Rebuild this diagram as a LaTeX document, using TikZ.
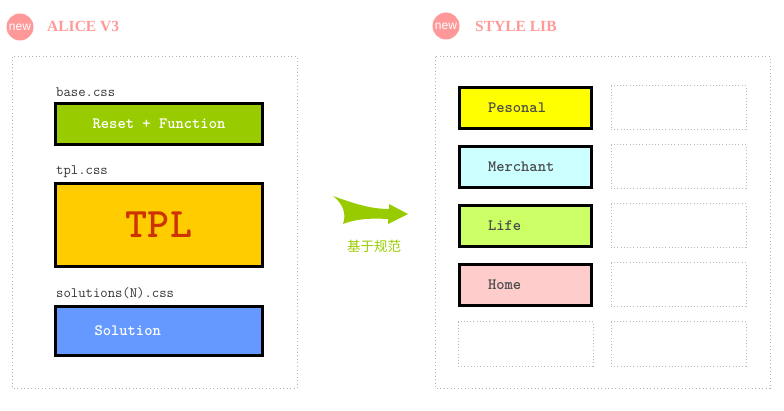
\documentclass[tikz,border=0pt]{standalone}
\usepackage{fontspec}
\setmainfont{Liberation Serif}
\setsansfont{Liberation Sans}
\newfontfamily\cjk{Noto Sans CJK SC}

\definecolor{newpink}{HTML}{FF9999}
\definecolor{basegreen}{HTML}{99CC00}
\definecolor{tplyellow}{HTML}{FFCC00}
\definecolor{tplred}{HTML}{CC3300}
\definecolor{solblue}{HTML}{6699FF}
\definecolor{peryellow}{HTML}{FFFF00}
\definecolor{mercyan}{HTML}{CCFFFF}
\definecolor{lifegreen}{HTML}{CCFF66}
\definecolor{homepink}{HTML}{FFCCCC}

\begin{document}
\begin{tikzpicture}[x=1pt,y=-1pt,
    newdot/.style={circle, fill=newpink, minimum size=27pt, inner sep=0pt,
      text=white, font=\sffamily\fontsize{12}{13}\selectfont},
    title/.style={anchor=west, text=newpink, inner sep=0pt,
      font=\bfseries\fontsize{15.5}{17}\selectfont},
    frame/.style={draw=gray!60, line width=1pt, dash pattern=on 1pt off 2.5pt},
    emptybox/.style={draw=gray!55, line width=1pt, dash pattern=on 1pt off 2.2pt,
      minimum width=135pt, minimum height=44pt, inner sep=0pt},
    filename/.style={anchor=west, inner sep=0pt, text=black!80,
      font=\ttfamily\fontsize{14.3}{16}\selectfont},
    lbox/.style={draw=black, line width=2.5pt, minimum width=207pt, inner sep=0pt,
      font=\ttfamily\bfseries\fontsize{15.8}{18}\selectfont},
    rbox/.style={draw=black, line width=2.5pt, minimum height=41pt,
      text width=75pt, inner xsep=28.5pt, inner ysep=0pt, align=left,
      text=black!70, font=\ttfamily\bfseries\fontsize{15.8}{18}\selectfont}]
    \useasboundingbox (0,0) rectangle (784,411);

    % headers
    \node[newdot] (newa) at (20,27) {new};
    \node[title] (alice) at (47,26) {ALICE V3};
    \node[newdot] (newb) at (446,26) {new};
    \node[title] (stylelib) at (475,26) {STYLE LIB};

    % containers
    \draw[frame] (12,57) rectangle (297,388);
    \draw[frame] (435,57) rectangle (770,388);

    % left column
    \node[filename] (basename) at (56,92) {base.css};
    \node[lbox, fill=basegreen, minimum height=41pt, text=white] (base) at (159,124) {Reset + Function};
    \node[filename] (tplname) at (56,172) {tpl.css};
    \node[lbox, fill=tplyellow, minimum height=83pt, text=tplred,
      font=\ttfamily\bfseries\fontsize{42}{44}\selectfont] (tpl) at (159,225) {TPL};
    \node[filename] (solname) at (56,293) {solutions(N).css};
    \node[lbox, fill=solblue, minimum height=49pt, text=white, text width=129pt,
      inner xsep=39pt, align=left] (sol) at (159,331) {Solution};

    % arrow
    \fill[basegreen] (333,196) .. controls (360,206) and (375,209) .. (389,209)
      -- (389,204) -- (408,214) -- (388,224) -- (388,219)
      .. controls (370,218) and (355,219) .. (343,224)
      .. controls (347,213) and (342,203) .. (333,196) -- cycle;
    \node[text=basegreen, font=\cjk\fontsize{13.5}{15}\selectfont] (rule) at (374,246) {基于规范};

    % right column
    \node[rbox, fill=peryellow] (pesonal) at (525.5,108) {Pesonal};
    \node[rbox, fill=mercyan] (merchant) at (525.5,167) {Merchant};
    \node[rbox, fill=lifegreen] (life) at (525.5,226) {Life};
    \node[rbox, fill=homepink] (home) at (525.5,285) {Home};
    \node[emptybox] (slota) at (678.5,108) {};
    \node[emptybox] (slotb) at (678.5,167) {};
    \node[emptybox] (slotc) at (678.5,226) {};
    \node[emptybox] (slotd) at (678.5,285) {};
    \node[emptybox] (slote) at (525.5,344) {};
    \node[emptybox] (slotf) at (678.5,344) {};
\end{tikzpicture}
\end{document}
